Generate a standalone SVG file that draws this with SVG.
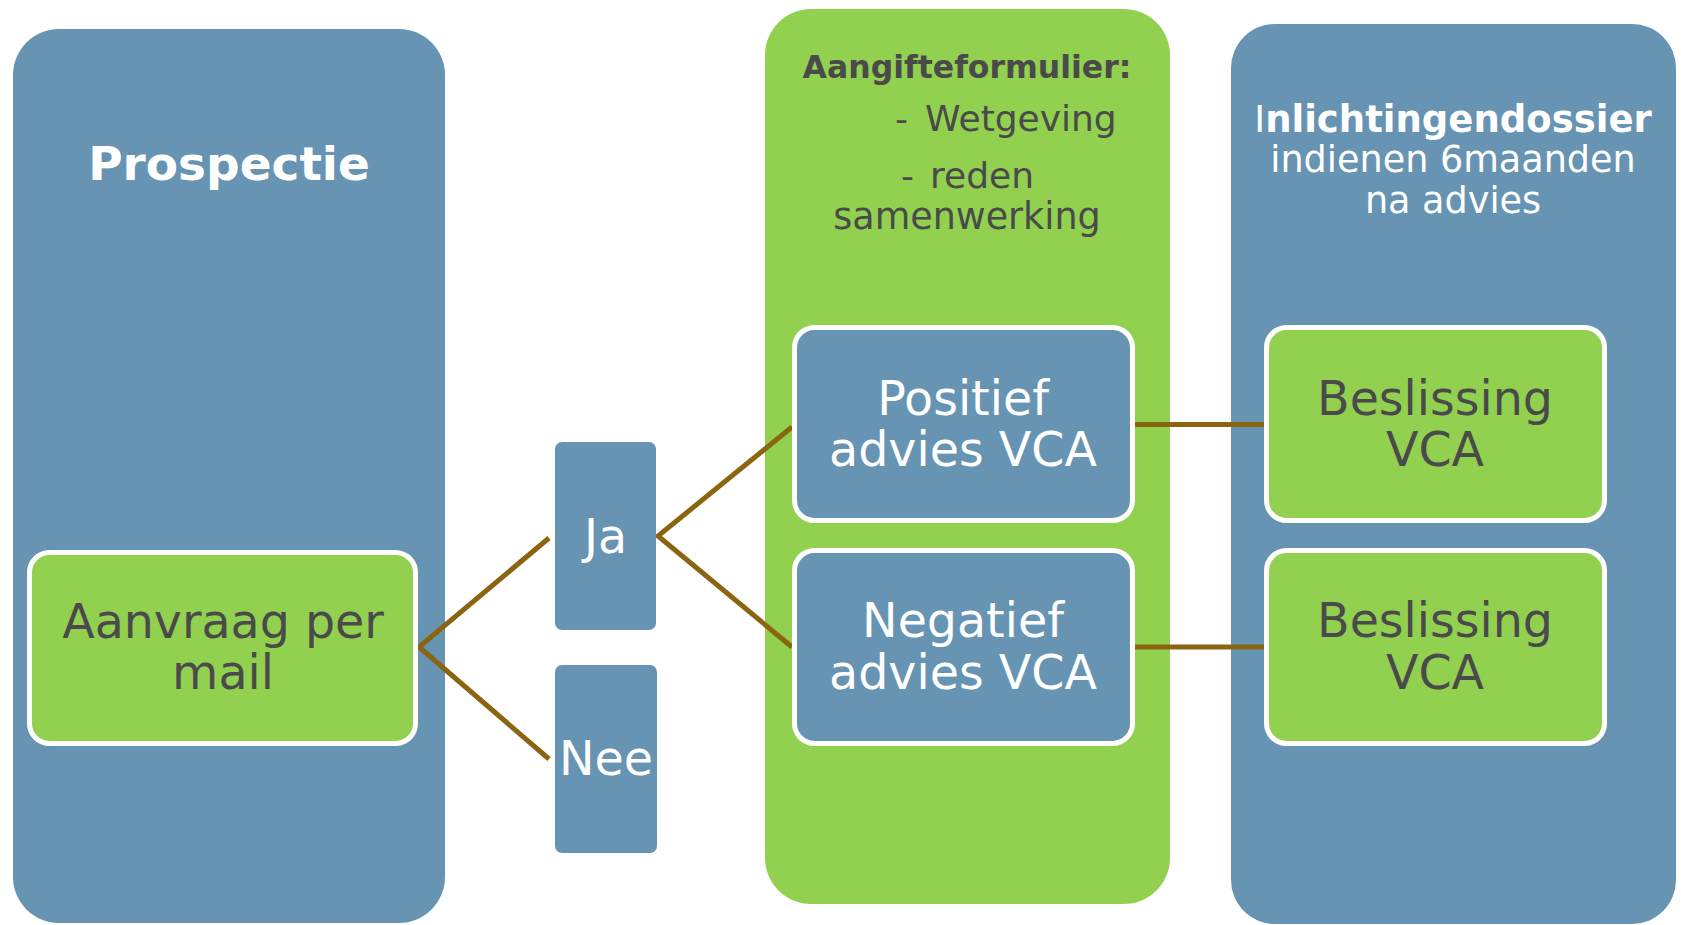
<svg xmlns="http://www.w3.org/2000/svg" width="1681" height="925" viewBox="0 0 1681 925">
<style>
.panelB{fill:#6794B3}
.panelG{fill:#92D050}
.boxB{fill:#6794B3;stroke:#FFFFFF;stroke-width:5}
.boxG{fill:#92D050;stroke:#FFFFFF;stroke-width:5}
.small{fill:#6794B3}
.t{font-family:"DejaVu Sans","Verdana",sans-serif;text-anchor:middle}
.big{font-size:47.5px}
.w{fill:#FFFFFF}
.d{fill:#4A4A4A}
.conn{stroke:#8B6410;stroke-width:5;fill:none}
</style>
<rect width="1681" height="925" fill="#FFFFFF"/>
<g id="panel-prospectie">
<rect class="panelB" x="13" y="29" width="432" height="894" rx="46"/>
<text class="t w" x="229" y="180" font-size="47" font-weight="bold">Prospectie</text>
</g>
<g id="panel-aangifte">
<rect class="panelG" x="765" y="9" width="405" height="895" rx="46"/>
<text class="t d" x="967" y="78" font-size="31.5" font-weight="bold">Aangifteformulier:</text>
<text class="d" x="895" y="131" font-family="DejaVu Sans, Verdana, sans-serif" font-size="36">-</text>
<text class="d" x="925" y="131" font-family="DejaVu Sans, Verdana, sans-serif" font-size="36">Wetgeving</text>
<text class="d" x="901" y="188" font-family="DejaVu Sans, Verdana, sans-serif" font-size="36">-</text>
<text class="d" x="930" y="188" font-family="DejaVu Sans, Verdana, sans-serif" font-size="36">reden</text>
<text class="t d" x="967" y="229" font-size="36.5">samenwerking</text>
</g>
<g id="panel-inlichtingen">
<rect class="panelB" x="1231" y="24" width="445" height="900" rx="44"/>
<text class="t w" x="1453" y="132" font-size="37"><tspan font-weight="normal">I</tspan><tspan font-weight="bold">nlichtingendossier</tspan></text>
<text class="t w" x="1453" y="172" font-size="36.6">indienen 6maanden</text>
<text class="t w" x="1453" y="213" font-size="36.6">na advies</text>
</g>
<g id="connectors">
<polyline class="conn" points="549,538 419,647 549,759"/>
<polyline class="conn" points="792,427 658,536 792,647"/>
<line class="conn" x1="1133" y1="424.5" x2="1265" y2="424.5"/>
<line class="conn" x1="1133" y1="647" x2="1265" y2="647"/>
</g>
<g id="node-aanvraag">
<rect class="boxG" x="29.5" y="552.5" width="386" height="191" rx="20"/>
<text class="t d big" x="223" y="638">Aanvraag per</text>
<text class="t d big" x="223" y="689">mail</text>
</g>
<g id="node-ja">
<rect class="small" x="555" y="442" width="101" height="188" rx="7"/>
<text class="t w big" x="605.5" y="553">Ja</text>
</g>
<g id="node-nee">
<rect class="small" x="555" y="665" width="102" height="188" rx="7"/>
<text class="t w big" x="606" y="775">Nee</text>
</g>
<g id="node-positief">
<rect class="boxB" x="794.5" y="327.5" width="338" height="193" rx="20"/>
<text class="t w big" x="963" y="415">Positief</text>
<text class="t w big" x="963" y="466">advies VCA</text>
</g>
<g id="node-negatief">
<rect class="boxB" x="794.5" y="550.5" width="338" height="193" rx="20"/>
<text class="t w big" x="963" y="637">Negatief</text>
<text class="t w big" x="963" y="689">advies VCA</text>
</g>
<g id="node-beslissing1">
<rect class="boxG" x="1266.5" y="327.5" width="338" height="193" rx="20"/>
<text class="t d big" x="1435" y="415">Beslissing</text>
<text class="t d big" x="1435" y="466">VCA</text>
</g>
<g id="node-beslissing2">
<rect class="boxG" x="1266.5" y="550.5" width="338" height="193" rx="20"/>
<text class="t d big" x="1435" y="637">Beslissing</text>
<text class="t d big" x="1435" y="689">VCA</text>
</g>
</svg>
